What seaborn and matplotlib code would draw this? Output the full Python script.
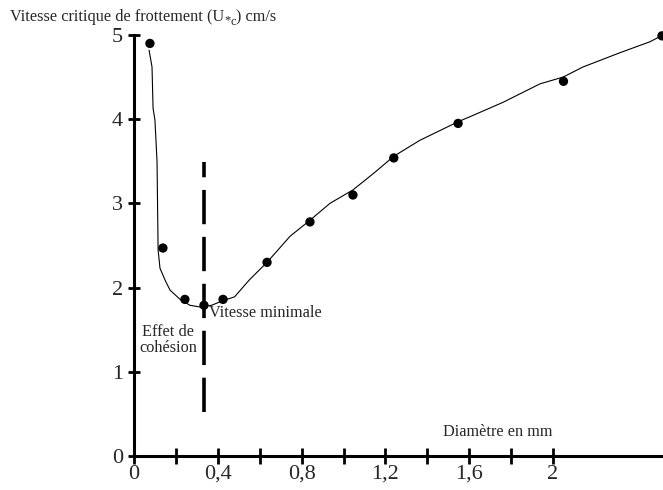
import numpy as np
import pandas as pd
import matplotlib
matplotlib.use('Agg')
import matplotlib.pyplot as plt
from matplotlib.ticker import MultipleLocator, FixedLocator, FixedFormatter
import seaborn as sns

# measured points (dots)
diam_pts = [0.076, 0.138, 0.243, 0.334, 0.425, 0.635, 0.84, 1.045, 1.24, 1.547, 2.05, 2.52]
vit_pts = [4.90, 2.47, 1.86, 1.79, 1.86, 2.30, 2.78, 3.10, 3.54, 3.95, 4.45, 4.99]

# hand-drawn curve (traced)
diam_curve = [0.072, 0.086, 0.091, 0.10, 0.11, 0.115, 0.124, 0.15, 0.172, 0.22, 0.267, 0.315, 0.37,
              0.43, 0.48, 0.55, 0.635, 0.745, 0.84, 0.935, 1.045, 1.15, 1.24, 1.365, 1.547,
              1.604, 1.761, 1.938, 2.048, 2.143, 2.32, 2.463, 2.525]
vit_curve = [4.82, 4.62, 4.13, 3.99, 3.49, 2.45, 2.23, 2.08, 1.97, 1.86, 1.79, 1.77, 1.79,
             1.85, 1.89, 2.09, 2.30, 2.61, 2.80, 3.00, 3.16, 3.37, 3.56, 3.75, 3.97,
             4.03, 4.20, 4.42, 4.50, 4.62, 4.79, 4.92, 5.00]

x_labels = ['0', '0,4', '0,8', '1,2', '1,6', '2']
x_label_pos = [0, 0.4, 0.8, 1.2, 1.6, 2.0]
d_min = 0.334

sns.set_theme(style='white')
plt.rcParams['font.family'] = ['Liberation Serif', 'DejaVu Serif']

W, H = 663, 490
fig = plt.figure(figsize=(W / 100, H / 100), dpi=100)
ax = fig.add_axes([134 / W, 1 - 456 / H, 1 - 134 / W, (456 - 35) / H])

pts = pd.DataFrame({'d': diam_pts, 'v': vit_pts})
curve = pd.DataFrame({'d': diam_curve, 'v': vit_curve})

sns.lineplot(data=curve, x='d', y='v', ax=ax, color='black', linewidth=0.8, sort=False)
sns.scatterplot(data=pts, x='d', y='v', ax=ax, color='black', s=45, edgecolor='none',
                zorder=3, clip_on=False)

# minimum speed marker
ax.plot([d_min, d_min], [0.52, 3.49], color='black', linewidth=2.6, dashes=(9.5, 3.5))

ax.set_xlim(0, 2.525)
ax.set_ylim(0, 5)
ax.set_xlabel('')
ax.set_ylabel('')

for s in ['top', 'right']:
    ax.spines[s].set_visible(False)
for s in ['left', 'bottom']:
    ax.spines[s].set_linewidth(2.2)
    ax.spines[s].set_color('black')

ax.xaxis.set_major_locator(FixedLocator(x_label_pos))
ax.xaxis.set_major_formatter(FixedFormatter(x_labels))
ax.xaxis.set_minor_locator(FixedLocator([0.2, 0.6, 1.0, 1.4, 1.8]))
ax.yaxis.set_major_locator(MultipleLocator(1))
ax.tick_params(axis='x', which='both', direction='inout', length=11, width=2,
               color='black', labelsize=16, pad=1, bottom=True)
ax.tick_params(axis='y', which='both', direction='inout', length=8, width=2,
               color='black', labelsize=16, pad=4, left=True)

ax.text(0.36, 1.70, 'Vitesse minimale', fontsize=11.7, ha='left', va='center')
ax.text(0.162, 1.38, 'Effet de\ncohésion', fontsize=11.7, ha='center', va='center',
        linespacing=1.0)
ax.text(1.737, 0.285, 'Diamètre en mm', fontsize=11.7, ha='center', va='center')

# y-axis title with U*c subscript, built from pieces placed one after another
base_y = 21  # baseline, pixels from top
pieces = [('Vitesse critique de frottement (U', 11.7, 0),
          ('*', 9, 2),
          ('c', 9, 4),
          (') cm/s', 11.7, 0)]
fig.canvas.draw()
renderer = fig.canvas.get_renderer()
x_px = 10
for txt, size, drop in pieces:
    t = fig.text(x_px / W, 1 - (base_y + drop) / H, txt, fontsize=size,
                 ha='left', va='baseline')
    x_px += t.get_window_extent(renderer).width

fig.savefig('out.png', dpi=100)
